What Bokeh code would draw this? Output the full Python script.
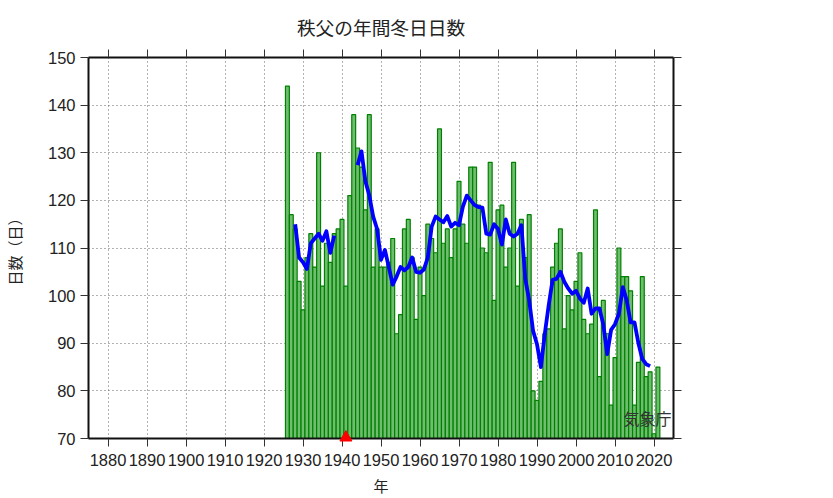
from bokeh.plotting import figure
from bokeh.models import LinearAxis, Range1d, FixedTicker, Label, Title
from bokeh.embed import file_html
from bokeh.resources import INLINE

TITLE = "秩父の年間冬日日数"
XLABEL = "年"
YLABEL = "日数（日）"
CREDIT = "気象庁"

bar_first_year = 1926
bar_values = [144, 117, 114, 103, 97, 108, 113, 106, 130, 102,
              111, 107, 113, 114, 116, 102, 121, 138, 131, 127,
              118, 138, 106, 114, 106, 106, 107, 112, 92, 96,
              114, 116, 108, 95, 106, 100, 115, 112, 109, 135,
              111, 114, 108, 114, 124, 115, 111, 127, 127, 119,
              110, 109, 128, 99, 118, 119, 106, 110, 128, 102,
              116, 108, 117, 80, 78, 82, 92, 93, 106, 111,
              114, 93, 100, 97, 103, 109, 95, 92, 94, 118,
              83, 99, 92, 77, 87, 110, 104, 104, 101, 77,
              86, 104, 83, 84, 71, 85]
bar_years = [bar_first_year + i for i in range(len(bar_values))]

ma_years_a = [1928, 1929, 1930, 1931, 1932, 1933, 1934, 1935, 1936, 1937, 1938]
ma_values_a = [115, 108, 107, 105.6, 111, 112, 113, 111.5, 113.5, 109, 112.6]
ma_years_b = list(range(1944, 2020))
ma_values_b = [127.4, 130.3, 124, 121, 116.6, 114, 107.5, 109.6, 106, 102.3,
               104, 106, 105.3, 106, 108, 105, 104.8, 105.5, 108, 114.5,
               116.6, 116, 115.4, 116.7, 114.5, 115.3, 114.8, 118.7, 121, 120,
               119, 118.6, 118.5, 113, 112.8, 115, 114, 110.7, 116, 113,
               112.4, 113, 114.8, 103.5, 99, 92.6, 89.8, 85, 92, 98,
               103.3, 103.5, 105, 102.9, 101.5, 100.4, 101, 99.4, 98.5, 101.5,
               96.2, 97.3, 97.3, 94, 87.7, 92.8, 94, 96.2, 101.8, 99,
               94.4, 94.4, 90, 86.7, 85.6, 85.2]

marker_year = [1941]
marker_value = [70.2]

x_ticks = list(range(1880, 2021, 10))
y_ticks = list(range(70, 151, 10))

p = figure(width=833, height=498, output_backend="svg", toolbar_location=None,
           x_range=Range1d(1875, 2025), y_range=Range1d(70, 150),
           min_border_left=88, min_border_right=160, min_border_top=57, min_border_bottom=60)

FONT = "Liberation Sans"
CJK = "Noto Sans CJK JP"

p.vbar(x=bar_years, top=bar_values, bottom=70, width=1.0,
       fill_color="#6fbd6f", line_color="#008000", line_width=1.2)
p.line(ma_years_a, ma_values_a, line_color="#0000ff", line_width=3.8, line_join="round")
p.line(ma_years_b, ma_values_b, line_color="#0000ff", line_width=3.8, line_join="round")
p.scatter(marker_year, marker_value, marker="triangle", size=12, fill_color="#ff0000", line_color="#ff0000", level="overlay")

p.add_layout(Label(x=583, y=21, x_units="screen", y_units="screen", text=CREDIT,
                   text_align="right", text_baseline="middle",
                   text_font=CJK, text_font_size="16px", text_color="#333333"))

for g, ticks in ((p.xgrid[0], x_ticks), (p.ygrid[0], y_ticks)):
    g.ticker = FixedTicker(ticks=ticks)
    g.grid_line_color = "#666666"
    g.grid_line_dash = [1, 3]
    g.grid_line_width = 1

left = p.yaxis[0]
bottom = p.xaxis[0]
right = LinearAxis()
top = LinearAxis()
p.add_layout(right, "right")
p.add_layout(top, "above")

for ax, ticks in ((bottom, x_ticks), (top, x_ticks), (left, y_ticks), (right, y_ticks)):
    ax.ticker = FixedTicker(ticks=ticks)
    ax.axis_line_color = "#111111"
    ax.axis_line_width = 2
    ax.major_tick_line_color = "#333333"
    ax.major_tick_line_width = 1
    ax.major_tick_in = 0
    ax.major_tick_out = 8
    ax.minor_tick_line_color = None
    ax.major_label_text_font = FONT
    ax.major_label_text_font_size = "16.5px"
    ax.major_label_text_color = "#222222"

top.major_label_overrides = {t: "" for t in x_ticks}
right.major_label_overrides = {t: "" for t in y_ticks}
top.major_label_standoff = 0
right.major_label_standoff = 0

p.add_layout(Title(text=TITLE, align="center", text_font=CJK, text_font_size="18.7px",
                   text_font_style="normal", text_color="#222222", standoff=20), "above")

bottom.axis_label = XLABEL
bottom.axis_label_text_font = CJK
bottom.axis_label_text_font_size = "15px"
bottom.axis_label_text_font_style = "normal"
bottom.axis_label_text_color = "#222222"
bottom.major_label_standoff = 7
bottom.axis_label_standoff = 6
left.axis_label = YLABEL
left.axis_label_text_font = CJK
left.axis_label_text_font_size = "15px"
left.axis_label_text_font_style = "normal"
left.axis_label_text_color = "#222222"
left.major_label_standoff = 5
left.axis_label_standoff = 20

p.outline_line_color = None
p.background_fill_color = "white"
p.border_fill_color = "white"

open("out.html", "w").write(file_html(p, INLINE))
